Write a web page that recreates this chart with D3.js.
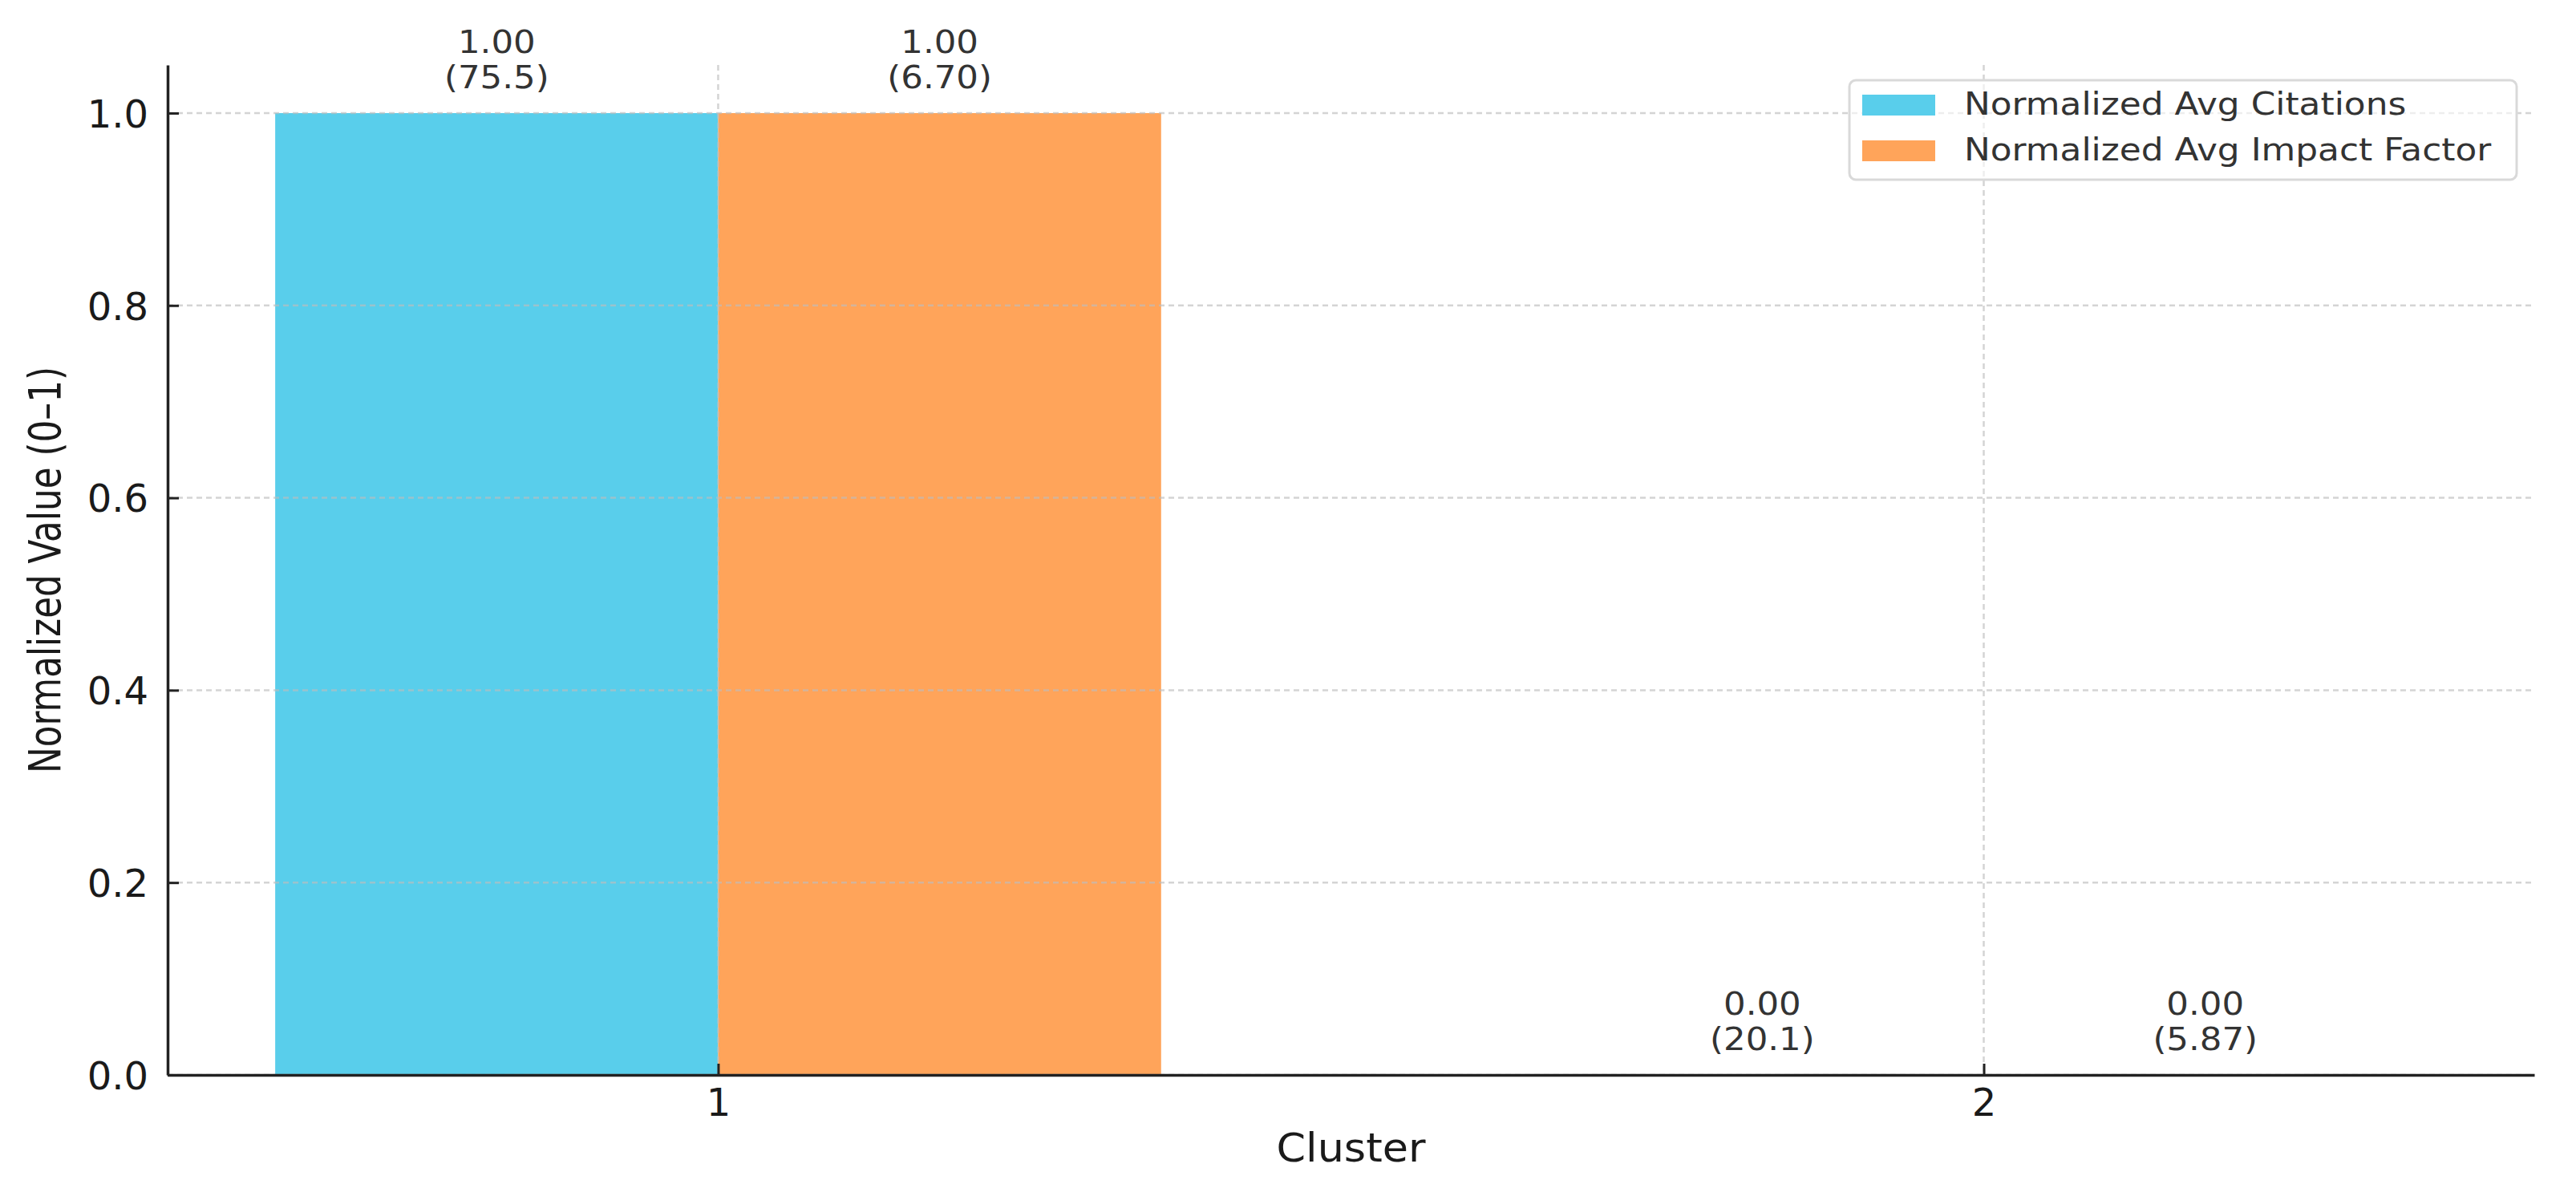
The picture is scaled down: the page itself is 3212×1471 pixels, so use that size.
<!DOCTYPE html>
<html>
<head>
<meta charset="utf-8">
<script src="https://cdn.jsdelivr.net/npm/d3@7"></script>
<style>
  html, body { margin: 0; padding: 0; background: #fff; }
  svg { display: block; font-family: "DejaVu Sans", sans-serif; }
</style>
</head>
<body>
<svg id="chart" width="3212" height="1471"></svg>
<script>
// ---- data ----
const clusters = [1, 2];
const seriesNames = ["Normalized Avg Citations", "Normalized Avg Impact Factor"];
const normCitations = [1.0, 0.0];
const normImpact = [1.0, 0.0];
const rawCitations = [75.5, 20.1];
const rawImpact = [6.70, 5.87];
const yTicks = [0.0, 0.2, 0.4, 0.6, 0.8, 1.0];
const xLabel = "Cluster";
const yLabel = "Normalized Value (0–1)";

const colors = ["#59CEEB", "#FFA45A"];
const barWidth = 0.35;

(function () {
// ---- layout ----
const svg = d3.select("#chart");
const pL = 209, pR = 3160, pT = 81, pB = 1340;

const x = d3.scaleLinear().domain([0.565, 2.435]).range([pL, pR]);
const y = d3.scaleLinear().domain([0, 1.05]).range([pB, pT]);

// bars data
const bars = [];
clusters.forEach((c, i) => {
  bars.push({c, s: 0, v: normCitations[i], raw: rawCitations[i], x0: c - barWidth, x1: c});
  bars.push({c, s: 1, v: normImpact[i], raw: rawImpact[i], x0: c, x1: c + barWidth});
});

// bars
svg.append("g").selectAll("rect").data(bars).join("rect")
  .attr("x", d => x(d.x0))
  .attr("width", d => x(d.x1) - x(d.x0))
  .attr("y", d => y(d.v))
  .attr("height", d => y(0) - y(d.v))
  .attr("fill", d => colors[d.s]);

// grid (drawn over bars)
const grid = svg.append("g")
  .attr("stroke", "#bdbdbd").attr("stroke-opacity", 0.65)
  .attr("stroke-width", 2.5).attr("stroke-dasharray", "7,5");
grid.selectAll("line.h").data(yTicks).join("line").attr("class", "h")
  .attr("x1", pL).attr("x2", pR)
  .attr("y1", d => y(d)).attr("y2", d => y(d));
grid.selectAll("line.v").data(clusters).join("line").attr("class", "v")
  .attr("x1", d => x(d)).attr("x2", d => x(d))
  .attr("y1", pT).attr("y2", pB);

// axes
const yAxis = d3.axisLeft(y).tickValues(yTicks).tickFormat(d3.format(".1f"))
  .tickSizeInner(-14).tickSizeOuter(0).tickPadding(24);
const gy = svg.append("g").attr("transform", `translate(${pL},0)`).call(yAxis);
const xAxis = d3.axisBottom(x).tickValues(clusters).tickFormat(d3.format("d"))
  .tickSizeInner(-14).tickSizeOuter(0).tickPadding(16);
const gx = svg.append("g").attr("transform", `translate(0,${pB})`).call(xAxis);

[gy, gx].forEach(g => {
  g.select(".domain").attr("stroke", "#222").attr("stroke-width", 3.5);
  g.selectAll(".tick line").attr("stroke", "#222").attr("stroke-width", 3);
  g.selectAll(".tick text").attr("fill", "#1a1a1a")
    .style("font-size", "48px").style("font-family", "DejaVu Sans");
});
gy.selectAll(".tick text").attr("dy", "0.36em");
gx.selectAll(".tick text").attr("dy", "0.72em");

// helper: horizontally stretched text
function sText(parent, tx, ty, sx, size, str, anchor, fill) {
  return parent.append("text")
    .attr("transform", `translate(${tx},${ty}) scale(${sx},1)`)
    .attr("text-anchor", anchor).attr("fill", fill)
    .style("font-size", size + "px").text(str);
}

// axis labels
sText(svg, (pL + pR) / 2, 1448, 1.07, 49, xLabel, "middle", "#1a1a1a");

svg.append("text")
  .attr("transform", `translate(75,${(pT + pB) / 2}) rotate(-90)`)
  .attr("text-anchor", "middle").attr("fill", "#1a1a1a")
  .attr("textLength", 507).attr("lengthAdjust", "spacingAndGlyphs")
  .style("font-size", "55px").text(yLabel);

// value labels
const vl = svg.append("g");
const fmtN = d3.format(".2f"), fmtR = d3.format(".3g");
bars.forEach(d => {
  const cx = x((d.x0 + d.x1) / 2);
  sText(vl, cx, y(d.v) - 75, 1.1, 39.5, fmtN(d.v), "middle", "#333");
  sText(vl, cx, y(d.v) - 31, 1.1, 39.5, "(" + fmtR(d.raw) + ")", "middle", "#333");
});

// legend
const lg = svg.append("g");
lg.append("rect").attr("x", 2306).attr("y", 100).attr("width", 832).attr("height", 124)
  .attr("rx", 8).attr("fill", "#fff").attr("fill-opacity", 0.6)
  .attr("stroke", "#d9d9d9").attr("stroke-width", 3);
seriesNames.forEach((name, i) => {
  const yy = 118 + i * 57;
  lg.append("rect").attr("x", 2322).attr("y", yy).attr("width", 91).attr("height", 26)
    .attr("fill", colors[i]);
  sText(lg, 2449, yy + 25, 1.11, 39.5, name, "start", "#333");
});
})();
</script>
</body>
</html>
